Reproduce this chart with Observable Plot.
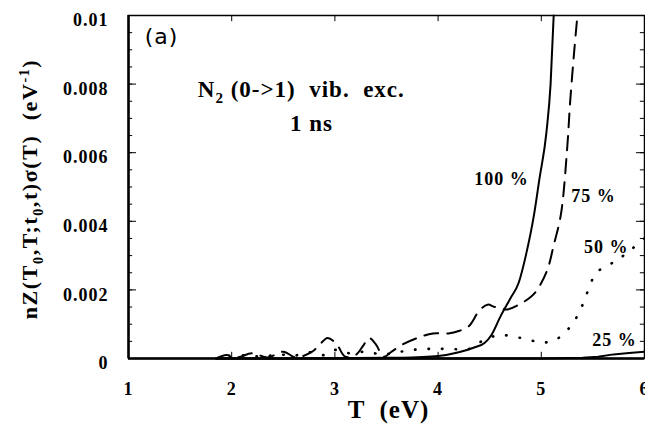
<!DOCTYPE html>
<html>
<head>
<meta charset="utf-8">
<script src="https://cdn.jsdelivr.net/npm/d3@7"></script>
<script src="https://cdn.jsdelivr.net/npm/@observablehq/plot@0.6"></script>
<style>
  body { margin: 0; background: #fff; }
  svg { display: block; }
</style>
</head>
<body>
<div id="chart"></div>
<script>
// N2 (0->1) vibrational excitation, 1 ns: nZ(T0,T;t0,t)σ(T) versus T (eV)
// for four fractions (100 %, 75 %, 50 %, 25 %).

const t100 = [1.85, 2.5, 3.0, 3.5, 3.8, 4.0, 4.2, 4.35, 4.45, 4.52, 4.6, 4.7, 4.78, 4.85, 4.93, 4.98, 5.05, 5.09, 5.12];
const v100 = [0, 0, 0.00001, 0.00002, 0.00004, 0.00007, 0.00018, 0.00032, 0.00045, 0.0007, 0.0012, 0.00175, 0.0022, 0.003, 0.0042, 0.0052, 0.0066, 0.008, 0.01];

const t75 = [1.85, 1.95, 2.05, 2.2, 2.35, 2.5, 2.62, 2.78, 2.85, 2.93, 3.02, 3.1, 3.2, 3.28, 3.33, 3.4, 3.47, 3.55, 3.65, 3.8, 3.95, 4.1, 4.2, 4.3, 4.4, 4.48, 4.55, 4.67, 4.8, 4.9, 4.96, 5.06, 5.12, 5.19, 5.25, 5.28, 5.32, 5.35];
const v75 = [0, 0.0001, 0.00003, 0.00015, 0.00003, 0.0002, 0.00003, 0.0002, 0.0004, 0.0006, 0.0004, 0.00005, 0.0001, 0.0004, 0.0006, 0.0004, 0.00005, 0.0002, 0.0004, 0.0006, 0.00073, 0.00073, 0.0008, 0.00095, 0.0014, 0.00157, 0.0015, 0.00143, 0.0016, 0.0018, 0.002, 0.0026, 0.0033, 0.0042, 0.0061, 0.0075, 0.009, 0.01];

const t50 = [1.85, 2.0, 2.15, 2.3, 2.45, 2.6, 2.75, 2.9, 3.0, 3.15, 3.3, 3.45, 3.6, 3.75, 3.9, 4.1, 4.3, 4.45, 4.6, 4.8, 5.0, 5.1, 5.2, 5.31, 5.38, 5.43, 5.48, 5.53, 5.64, 5.75, 5.88, 6.0];
const v50 = [0, 0.00005, 0.0001, 0.00005, 0.00012, 0.00008, 0.00018, 0.0001, 0.00025, 0.00015, 0.0002, 0.00012, 0.00018, 0.00025, 0.00028, 0.00028, 0.00028, 0.00055, 0.00068, 0.0006, 0.00047, 0.0005, 0.00067, 0.00105, 0.00143, 0.0018, 0.0022, 0.0025, 0.0027, 0.0029, 0.0032, 0.0035];

const t25 = [1.85, 5.0, 5.4, 5.55, 5.7, 5.85, 6.0];
const v25 = [0, 0, 0.00002, 0.00005, 0.00012, 0.00016, 0.0002];

const xTicks = [1, 2, 3, 4, 5, 6];
const xTickLabels = ["1", "2", "3", "4", "5", "6"];
const yTicks = [0, 0.002, 0.004, 0.006, 0.008, 0.01];
const yTickLabels = ["0", "0.002", "0.004", "0.006", "0.008", "0.01"];
const yMinorTicks = d3.range(0, 21).map(i => i * 0.0005);

const curveLabels = ["100 %", "75 %", "50 %", "25 %"];
const curveLabelT = [4.614, 5.506, 5.63, 5.71];
const curveLabelV = [0.005044, 0.004577, 0.00309, 0.000379];

const rows = (T, V) => T.map((t, i) => ({T: t, v: V[i]}));
const xMajorInner = [2, 3, 4, 5];

const serif = "'Liberation Serif', 'Times New Roman', serif";

const chart = Plot.plot({
  width: 645,
  height: 424,
  marginLeft: 128,
  marginRight: 1,
  marginTop: 15,
  marginBottom: 66,
  x: {domain: [1, 6], axis: null},
  y: {domain: [0, 0.01], axis: null},
  style: {fontFamily: serif, background: "#fff", color: "#000", letterSpacing: "1px"},
  marks: [
    // curves
    Plot.line(rows(t25, v25), {x: "T", y: "v", stroke: "#000", strokeWidth: 2}),
    Plot.line(rows(t50, v50), {x: "T", y: "v", stroke: "#000", strokeWidth: 2.6, strokeDasharray: "0.5,13", strokeLinecap: "round", curve: "catmull-rom"}),
    Plot.line(rows(t75, v75), {x: "T", y: "v", stroke: "#000", strokeWidth: 2, strokeDasharray: "14,9", curve: "catmull-rom"}),
    Plot.line(rows(t100, v100), {x: "T", y: "v", stroke: "#000", strokeWidth: 2, curve: "monotone-x"}),

    // frame
    Plot.frame({stroke: "#000", strokeWidth: 1.5}),
    Plot.ruleX([1], {stroke: "#000", strokeWidth: 2.5}),
    Plot.ruleY([0], {stroke: "#000", strokeWidth: 2.5}),

    // inward ticks
    Plot.ruleY(yMinorTicks, {y: d => d, x1: 1, x2: 1.04, stroke: "#000", strokeWidth: 1}),
    Plot.ruleY(yTicks, {y: d => d, x1: 1, x2: 1.078, stroke: "#000", strokeWidth: 1}),
    Plot.ruleY(yMinorTicks, {y: d => d, x1: 5.96, x2: 6, stroke: "#000", strokeWidth: 1}),
    Plot.ruleY(yTicks, {y: d => d, x1: 5.922, x2: 6, stroke: "#000", strokeWidth: 1}),
    Plot.ruleX(xMajorInner, {x: d => d, y1: 0, y2: 0.00018, stroke: "#000", strokeWidth: 1}),
    Plot.ruleX(xMajorInner, {x: d => d, y1: 0.00982, y2: 0.01, stroke: "#000", strokeWidth: 1}),

    // tick labels
    Plot.text(xTicks, {x: d => d, y: () => 0, text: (d, i) => xTickLabels[i], dy: 36, lineAnchor: "bottom", fontSize: 18, fontWeight: "bold", fill: "#000"}),
    Plot.text(yTicks, {x: () => 1, y: d => d, text: (d, i) => yTickLabels[i], dx: -20, dy: 5, textAnchor: "end", fontSize: 18, fontWeight: "bold", fill: "#000"}),

    // curve labels
    Plot.text(curveLabels, {x: (d, i) => curveLabelT[i], y: (d, i) => curveLabelV[i], text: d => d, lineAnchor: "bottom", fontSize: 18, fontWeight: "bold", fill: "#000"}),

    // panel tag and duration
    Plot.text(["(a)"], {x: () => 1.32, y: () => 0.009155, text: d => d, lineAnchor: "bottom", fontSize: 22, fontFamily: "'DejaVu Sans', sans-serif", fontWeight: "normal", fill: "#000"}),
    Plot.text(["1 ns"], {x: () => 2.773, y: () => 0.006647, text: d => d, lineAnchor: "bottom", fontSize: 23, fontWeight: "bold", fill: "#000"}),

    // x axis title
    Plot.text(["T  (eV)"], {x: () => 3.52, y: () => 0, text: d => d, dy: 59, lineAnchor: "bottom", fontSize: 25, fontWeight: "bold", fill: "#000"})
  ]
});

document.getElementById("chart").appendChild(chart);

// Rich-text labels with sub/superscripts
const svg = d3.select(chart);
const sx = chart.scale("x"), sy = chart.scale("y");

const title = svg.append("text")
  .attr("x", sx.apply(1.676))
  .attr("y", sy.apply(0.00761))
  .attr("text-anchor", "start")
  .attr("font-family", serif)
  .attr("font-weight", "bold")
  .attr("font-size", 23)
  .attr("letter-spacing", "1px")
  .attr("fill", "#000");
title.append("tspan").text("N");
title.append("tspan").attr("dy", 6).attr("font-size", 15).text("2");
title.append("tspan").attr("dy", -6).text("\u00a0(0->1)\u00a0\u00a0vib.\u00a0\u00a0exc.");

const ylab = svg.append("text")
  .attr("transform", "translate(37,189) rotate(-90)")
  .attr("text-anchor", "middle")
  .attr("font-family", serif)
  .attr("font-weight", "bold")
  .attr("font-size", 22)
  .attr("letter-spacing", "1.6px")
  .attr("fill", "#000");
ylab.append("tspan").text("nZ(T");
ylab.append("tspan").attr("dy", 6).attr("font-size", 14).text("0");
ylab.append("tspan").attr("dy", -6).text(",T;t");
ylab.append("tspan").attr("dy", 6).attr("font-size", 14).text("0");
ylab.append("tspan").attr("dy", -6).text(",t)σ(T)\u00a0\u00a0(eV");
ylab.append("tspan").attr("dy", -8).attr("font-size", 14).text("-1");
ylab.append("tspan").attr("dy", 8).text(")");
</script>
</body>
</html>
